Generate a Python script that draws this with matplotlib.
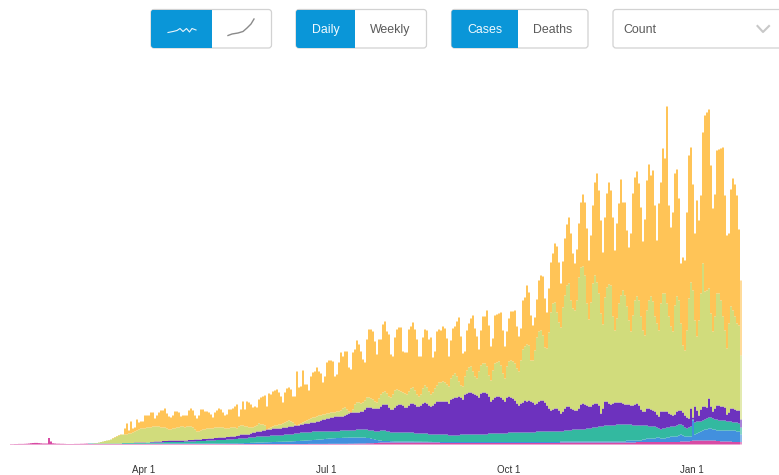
import numpy as np
import matplotlib
matplotlib.use("Agg")
import matplotlib.pyplot as plt
from matplotlib.patches import FancyBboxPatch, Rectangle

plt.rcParams['font.family'] = ['Liberation Sans', 'DejaVu Sans']

# Daily stacked values; each list is the running total up to and including that layer.
# The y scale is unlabelled in the source, so values are read in chart height units.
pre_outbreak = [.4,.4,.5,.5,.6,.6,.6,.7,.8,1,1.3,1.5,1.6,1.6,1.4,1.2,1,1,1,6.5,3,1.2,1,.8,.8,.7,.7,.6,.5,.5,.5,.5,.6,.6,.6,.7,.7,.8,.9]

total_top = pre_outbreak + [
 1,1,1.2,1.5,1.5,2,2.5,3,3.5,4,4.3,5,6.5,7.5,8.5,9.5,10,10,16,21,14,23,16,17,25,22,23,23,29,29,29,32,32,26,29,32,34,34,36,31,28,27,29,33,33,
 32,28,29,29,29,34,36,34,29,26,29,35,35,33,33,32,30,27,32,34,36,35,32,29,30,35,35,36,38,40,
 28,35,43,35,43,42,40,37,38,37,45,47,48,49,38,51,50,53,54,55,52,48,42,52,56,57,55,48,48,73,
 57,58,74,60,60,54,68,72,73,77,73,71,62,68,82,84,84,83,68,70,82,92,88,93,93,77,75,92,95,104,
 100,93,85,82,105,115,115,113,103,90,105,105,120,123,113,110,90,88,107,115,117,117,93,92,92,115,118,122,115,105,
 88,88,107,115,114,105,107,87,93,113,115,
 114,118,116,106,88,104,116,118,123,127,108,91,93,114,121,126,129,116,108,95,114,128,128,134,119,98,106,129,130,131,132,114,98,113,126,133,133,134,118,108,
 116,144,147,159,152,129,119,127,145,164,169,168,146,132,156,182,191,201,198,182,161,183,206,220,227,211,191,181,195,221,242,250,242,216,184,209,239,262,271,254,
 224,192,227,251,262,254,227,194,221,241,265,242,242,214,197,211,251,267,273,261,237,203,225,264,280,269,274,239,204,241,262,296,286,338,239,217,232,271,275,246,
 181,187,184,232,289,297,260,211,244,224,249,312,329,332,335,279,236,250,294,295,296,297,249,209,211,255,266,260,249,215,164]

lime_top = pre_outbreak + [
 1,1,1.2,1.5,1.5,2,2.5,3,3.5,4,4.3,5,6,7,8,9,9.5,10,10,10,11,11,12,13,14,15,16,16,16,17,17,17,18,18,18,18,17,17,17,16,15,15,16,16,17,
 17,18,18,17,18,18,18,17,15,13,13,14,15,15,16,16,16,16,17,17,17,17,17,16,16,16,17,17,17,16,
 18,19,19,18,18,17,17,17,18,19,21,20,20,19,15,16,17,18,19,19,20,20,21,22,23,24,23,22,20,19,
 20,21,22,23,24,25,26,27,27,28,29,29,30,30,31,31,32,32,32,33,33,34,36,37,35,33,32,35,40,42,
 42,41,42,44,47,47,46,45,43,42,46,50,52,53,51,48,47,50,54,55,54,53,52,51,50,53,56,57,54,50,
 48,50,56,59,57,53,50,52,56,59,62,
 62,63,62,60,58,66,69,71,68,63,59,58,68,74,77,78,73,68,66,73,79,81,81,78,69,64,74,81,82,83,79,71,66,78,83,84,83,81,76,73,
 84,95,98,100,99,84,84,94,107,113,114,109,97,96,112,132,141,142,132,122,117,137,149,159,161,144,136,134,144,167,177,178,169,141,125,142,161,169,162,151,
 131,120,147,157,160,159,128,114,126,141,149,154,149,138,124,113,129,144,148,144,128,114,109,134,144,148,143,128,121,114,141,151,151,141,128,118,113,139,148,144,
 121,99,94,114,146,162,154,124,108,124,151,181,153,154,156,131,113,128,151,151,144,128,114,96,121,138,134,128,121,119,89]

purple_top = pre_outbreak + [
 1,1,1,1,1,1,1,1,1,1,1,1,1,1,1,1,1,1.5,1.5,1.5,1.5,1.5,1.5,2,2,2,2,2,2,2,2,2.5,2.5,3,3,3,3,3.5,3.5,3.5,4,4,4,4,4,
 4,4,4,4,4,4.5,4.5,4.5,5,5,5,5,5.5,5.5,5.5,6,6,6,6.5,6.5,7,7,7,7,7.5,7.5,8,8,8,8.5,
 9,10,10,10,10,10,11,12,12,13,13,13,14,14,15,15,15,16,16,16,16,16,17,17,17,18,18,18,19,19,
 19,20,20,21,21,21,22,22,22,23,23,24,25,25,26,26,27,27,28,28,28,28,28,29,30,31,32,32,32,32,
 32,33,33,35,37,37,37,36,36,36,36,38,40,40,40,37,35,35,37,39,40,40,39,37,37,39,41,41,40,38,
 38,39,41,42,41,39,38,39,41,43,43,
 43,43,43,43,41,45,46,47,47,48,47,45,50,51,52,52,51,50,49,47,51,52,52,51,48,43,45,47,48,48,47,45,43,47,48,47,46,44,41,39,
 41,42,44,43,44,43,42,40,41,43,44,44,42,39,36,34,35,36,36,34,31,33,36,38,38,36,35,34,34,36,40,41,40,39,38,38,40,41,41,39,
 31,36,43,43,41,40,41,42,42,42,42,41,40,40,40,39,39,40,41,39,35,33,33,36,36,35,34,33,30,28,33,33,33,33,31,30,29,30,33,34,
 34,32,29,27,26,36,27,38,34,29,35,38,38,37,46,38,33,36,39,39,38,38,37,30,32,36,36,35,34,34,25]

teal_top = pre_outbreak + [
 1,1,1,1,1,1,1,1,1,1,1,1,1,1,1,1,1,1.5,1.5,1.5,1.5,1.5,1.5,1.5,1.5,1.5,1.5,1.5,1.5,2,2,2,2,2,2,2,2,2,2.5,2.5,2.5,2.5,2.5,2.5,2.5,
 2.5,2.5,2.5,3,3,3,3,3,3,3.5,3.5,3.5,3.5,3.5,4,4,4,4,4,4.5,4.5,4.5,4.5,4.5,5,5,5,5,5.5,5.5,
 6,6,6,6,6,7,7,7,7,8,8,8,8,8,8,8,9,9,9,9,9,9,9,10,10,10,10,10,11,11,
 11,12,12,12,12,12,12,13,13,13,13,13,13,13,13,13,13,13,13,13,13,14,14,14,14,14,14,14,14,15,
 15,15,15,15,15,14,14,14,13,13,13,14,14,14,13,13,12,12,12,12,12,12,12,12,12,12,12,12,11,11,
 11,11,11,11,11,10,10,10,10,10,10,
 10,10,10,10,9,9,9,9,9,9,10,10,10,10,10,10,10,10,10,10,10,10,10,10,11,11,11,11,11,11,11,11,11,11,12,12,12,12,12,12,
 12,12,12,12,12,12,12,12,13,13,13,13,13,13,13,13,13,13,13,13,13,13,14,14,14,14,15,15,15,15,15,15,15,16,16,16,17,17,17,18,
 18,18,19,19,19,19,19,19,20,20,20,20,20,20,20,20,19,19,19,19,19,19,19,19,18,18,18,18,17,16,15,16,16,17,17,18,18,18,19,20,
 20,19,17,16,17,18,25,22,23,23,23,24,25,26,27,27,26,25,25,24,24,24,24,23,23,23,22,22,22,21,17]

blue_top = pre_outbreak + [
 .7,.7,.7,.7,.7,.7,.7,.7,.7,.7,.7,.7,.7,.7,.7,.7,.7,.8,.8,.8,.8,.8,.8,.8,.8,.8,.8,.8,.8,.9,.9,.9,.9,.9,.9,.9,.9,.9,1,1,1,1,1,1,1,
 1,1,1,1,1,1,1,1,1,1,1,1,1,1,1,1,1,1,1,1.1,1.1,1.1,1.1,1.1,1.2,1.2,1.2,1.2,1.2,1.2,
 1.3,1.3,1.3,1.5,1.5,1.5,1.7,1.7,1.8,2,2,2,2,2.2,2.2,2.3,2.4,2.5,2.5,2.6,2.7,2.7,2.8,2.8,2.9,3,3,3.2,3.3,3.5,
 3.5,3.7,3.8,4,4,4.2,4.3,4.5,4.6,4.8,5,5,5.2,5.5,5.7,6,6,6.2,6.3,6.5,6.5,6.5,6.7,6.8,6.8,7,7,7,7,7,
 7,7,7,7,6.5,6.5,6,5.5,5,4.5,4,4,3.5,3.5,3.5,3.5,3.3,3.2,3,3,3,3,3,3,3,3,3,3,2.8,2.8,
 2.8,2.8,2.7,2.7,2.7,2.6,2.6,2.5,2.5,2.5,2.5,
 2.5,2.5,2.5,2.5,2.5,2.5,2.5,2.5,2.5,2.5,2.5,2.5,2.5,2.5,2.5,2.5,2.5,2.5,2.5,2.5,2.5,2.5,2.5,2.5,2.5,2.5,2.5,2.5,2.5,2.5,2.5,2.5,2.5,2.5,2.5,2.5,2.5,2.5,2.5,2.5,
 2.5,2.5,2.5,2.5,2.5,2.5,2.5,2.5,2.5,2.5,2.5,2.5,2.5,2.5,2.5,2.5,2.5,2.5,2.5,2.5,3,3,3,3,3,3,3,3,3,3,3,3,3,3,3,3,3,3,3,3,
 3,3,3,3,3,3,3,3,3,3,3,3,3,4,4,4,4,4,4,4,4,5,5,6,6,6,6,6,7,7,6,6,6,7,7,8,8,8,8,9,
 10,9,8,8,8,8,24,10,11,12,13,14,15,15,16,16,15,15,14,14,14,14,14,14,14,14,14,14,13,13,10]

pink_top = pre_outbreak + [
 .5,.5,.5,.5,.5,.5,.5,.5,.5,.5,.5,.5,.5,.5,.5,.5,.5,.5,.5,.5,.5,.5,.5,.5,.5,.5,.5,.5,.5,.5,.5,.5,.5,.5,.5,.5,.5,.5,.5,.5,.5,.5,.5,.5,.5,
 .5,.5,.5,.5,.5,.5,.5,.5,.5,.5,.5,.5,.5,.5,.5,.5,.5,.5,.5,.5,.5,.5,.5,.5,.5,.5,.5,.5,.5,.5,
 .5,.5,.5,.5,.5,.5,.5,.5,.5,.5,.5,.5,.5,.5,.5,.5,.5,.5,.5,.5,.5,.5,.5,.5,.5,.5,.5,.5,.5,.5,
 .5,.5,.5,.5,.5,.6,.6,.6,.6,.6,.6,.6,.6,.6,.6,.7,.7,.7,.7,.7,.7,.7,.7,.7,.7,.8,.8,.8,.9,.9,
 1,1,1,1,1.2,1.2,1.3,1.3,1.5,1.5,1.7,2,2,2,2,2,2,2,2,2,2,2,2,2,2,2,2,2,2,2,
 2,2,2,2,2,2,2,2,2,2,2,
 1.5,1.5,1.5,1.5,1.5,1.5,1.5,1.5,1.5,1.5,1.5,1.5,1.5,1.5,1.5,1.5,1.5,1.5,1.5,1.5,1.5,1.5,1.5,1.5,1.5,1.5,1.5,1.5,1.5,1.5,1.5,1.5,1.5,1.5,1.5,1.5,1.5,1.5,1.5,1.5,
 1.5,1.5,1.5,1.5,1.5,1.5,1.5,1.5,1.5,1.5,1.5,1.5,1.5,1.5,1.5,1.5,1.5,1.5,1.5,1.5,2,2,2,2,2,2,2,2,2,2,2,2,2,2,2,2,2,2,2,2,
 2,2,2,2,2,2,2,2,2,2,2,2,2,2,2,2,2,2,2.5,2.5,2.5,2.5,2.5,2.5,2.5,2.5,2.5,2.5,2.5,2.5,
 2.5,2.5,2.5,2.5,2.5,2.5,2.5,2.5,2.5,2.5,3,3,3,3,3,3.5,4,4,4,4,4,4,4,4,4,4,4,4,3.5,3.5,3,3,3,3,3,3,2.5,2.5,2.5,2.5,2.5]

tick_days = [66.5, 157.4, 249, 340.5]
tick_labels = ['Apr 1', 'Jul 1', 'Oct 1', 'Jan 1']

layers = [('#D6409F', pink_top), ('#378ADC', blue_top), ('#27B59B', teal_top),
          ('#6426BB', purple_top), ('#CFDA74', lime_top), ('#FFC14D', total_top)]

W, H = 779, 475
BASE = 444.5
fig = plt.figure(figsize=(W / 100, H / 100), dpi=100)
ax = fig.add_axes([0, (H - BASE) / H, 1, BASE / H])
days = np.arange(len(total_top))
lower = np.zeros(len(days))
for color, values in layers:
    upper = np.array(values, dtype=float)
    bars = ax.bar(days, upper - lower, bottom=lower, width=0.94, color=color, linewidth=0)
    for patch in bars:
        patch.set_snap(False)
    bars[-1].set_alpha(0.6)
    lower = upper
ax.set_xlim(-5.5, 384)
ax.set_ylim(0, BASE)
for s in ax.spines.values():
    s.set_visible(False)
ax.set_yticks([])
ax.set_xticks(tick_days)
ax.set_xticklabels(tick_labels, fontsize=7, color='#333333')
ax.tick_params(axis='x', length=0, pad=15)

# Control bar, laid out in pixel coordinates
ui = fig.add_axes([0, 0, 1, 1])
ui.set_xlim(0, W)
ui.set_ylim(H, 0)
ui.axis('off')
ui.patch.set_alpha(0)

BLUE = '#0A96D8'
BORDER = '#D2D2D2'
TOP, BOTTOM = 9.5, 48


def box(x0, x1, split=None):
    frame = FancyBboxPatch((x0, TOP), x1 - x0, BOTTOM - TOP,
                           boxstyle='round,pad=0,rounding_size=3', fc='white', ec=BORDER, lw=0.9)
    ui.add_patch(frame)
    if split is not None:
        fill = Rectangle((x0, TOP), split - x0, BOTTOM - TOP, fc=BLUE, ec='none')
        ui.add_patch(fill)
        fill.set_clip_path(frame)


box(151, 271.5, 212)
box(296, 426.5, 355)
box(451.5, 588, 518)
box(613, 800)

for x, label, col in [(325.5, 'Daily', '#F2FAFE'), (390.5, 'Weekly', '#5A5A5A'),
                      (484.5, 'Cases', '#F2FAFE'), (552.5, 'Deaths', '#5A5A5A')]:
    ui.text(x, 29.7, label, ha='center', va='center', fontsize=8.9, color=col)
ui.text(623.5, 29.7, 'Count', ha='left', va='center', fontsize=8.9, color='#5A5A5A')

chevron_x = [757.5, 763, 769]
chevron_y = [26, 32, 26]
ui.plot(chevron_x, chevron_y, color='#C8C8C8', lw=1.5)

squiggle_x = [168, 173, 177, 180, 183, 186.5, 189.5, 192, 196]
squiggle_y = [32.5, 31.5, 30.5, 28.5, 31.5, 28.5, 32, 28.5, 30]
ui.plot(squiggle_x, squiggle_y, color='#E8F4FB', lw=0.8)
curve_x = [228, 232, 238, 243, 247, 251, 254]
curve_y = [35.5, 34, 33, 31.5, 28, 24, 19]
ui.plot(curve_x, curve_y, color='#8A8A8A', lw=1.0)

fig.savefig('out.png', dpi=100)
